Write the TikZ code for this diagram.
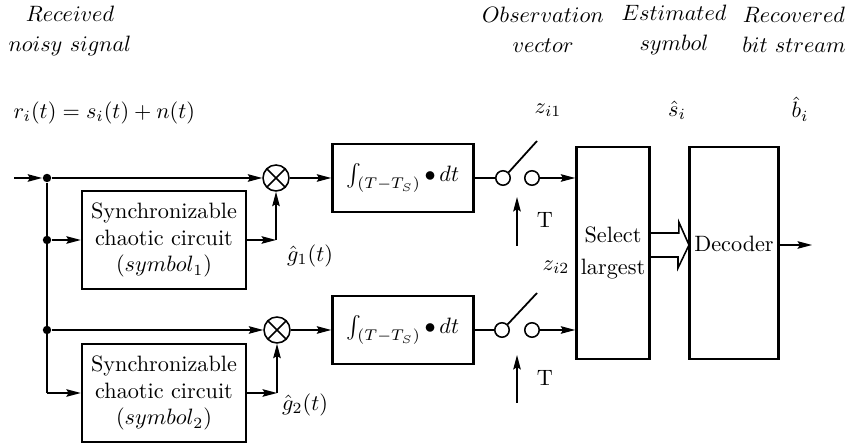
\documentclass[tikz,border=0pt]{standalone}
\usepackage{amsmath,amssymb}
\usetikzlibrary{arrows.meta,calc}

\begin{document}
\begin{tikzpicture}[x=0.45pt,y=-0.45pt,line width=0.6pt,
  box/.style={draw,line width=1.1pt,align=center,inner sep=1pt},
  dot/.style={circle,fill,inner sep=0pt,minimum size=3.8pt},
  toplbl/.style={align=center,inner sep=0pt},
  mult/.style={circle,draw,line width=0.7pt,inner sep=0pt,minimum size=11.7pt,
    path picture={\draw[line width=0.7pt]
      (path picture bounding box.north west) -- (path picture bounding box.south east)
      (path picture bounding box.south west) -- (path picture bounding box.north east);}},
  swc/.style={circle,draw,line width=0.7pt,inner sep=0pt,minimum size=6.5pt},
  arr/.style={-{Stealth[length=6.5pt,width=3.4pt,inset=1pt]}}]
  \useasboundingbox (0,0) rectangle (855,443);
  \node[toplbl] (rxlbl) at (70,31) {$Received$\\[1.5pt]$noisy\ signal$};
  \node[anchor=west,inner sep=0pt] (rxeq) at (13,113) {$r_i(t)=s_i(t)+n(t)$};
  \node[toplbl] (obslbl) at (543,30) {$Observation$\\[1.5pt]$vector$};
  \node[toplbl] (estlbl) at (674,30) {$Estimated$\\[1.5pt]$symbol$};
  \node[toplbl] (reclbl) at (794,30) {$Recovered$\\[1.5pt]$bit\ stream$};
  \node[inner sep=0pt] (zlbl1) at (548,110) {$z_{i1}$};
  \node[inner sep=0pt] (slbl) at (677,110) {$\hat s_i$};
  \node[inner sep=0pt] (blbl) at (800,109) {$\hat b_i$};

  \coordinate (in) at (14,178);
  \node[dot] (j1) at (47,178) {};
  \node[dot] (j2) at (47,240) {};
  \node[dot] (j3) at (47,330) {};
  \coordinate (j4) at (47,393);
  \node[box,minimum width=73.8pt,minimum height=44pt] (sync1) at (164,240) {Synchronizable\\chaotic circuit\\$(symbol_1)$};
  \node[box,minimum width=73.8pt,minimum height=44pt] (sync2) at (164,393) {Synchronizable\\chaotic circuit\\$(symbol_2)$};
  \node[mult] (mul1) at (276,178) {};
  \node[mult] (mul2) at (277,330) {};
  \node (glbl1) at (310,256) {$\hat g_1(t)$};
  \node (glbl2) at (305,405) {$\hat g_2(t)$};
  \node[box,minimum width=63.5pt,minimum height=30.6pt] (int1) at (403,178) {$\int_{(T-T_S)}\bullet\,dt$};
  \node[box,minimum width=63.5pt,minimum height=30.6pt] (int2) at (403,330) {$\int_{(T-T_S)}\bullet\,dt$};

  \node[swc] (sw1a) at (503,178) {};
  \node[swc] (sw1b) at (532,178) {};
  \coordinate (sw1t) at (537,141);
  \coordinate (tk1) at (517,246);
  \coordinate (tk1t) at (517,197);
  \node (tlbl1) at (545,220) {T};
  \node[swc] (sw2a) at (502,330) {};
  \node[swc] (sw2b) at (532,330) {};
  \coordinate (sw2t) at (537,293);
  \coordinate (tk2) at (517,403);
  \coordinate (tk2t) at (517,355);
  \node (tlbl2) at (545,378) {T};
  \node (zlbl2) at (556,267) {$z_{i2}$};

  \node[box,minimum width=32.9pt,minimum height=95.4pt] (sel) at (613,253) {Select\\[2pt]largest};
  \node[box,minimum width=40pt,minimum height=95.4pt] (dec) at (734,253) {};
  \node (dectxt) at (734,244) {Decoder};
  \coordinate (fa) at (689,245);
  \coordinate (out) at (812,245);

  \draw[arr] (in) -- (j1);
  \draw (j1) -- (j4);
  \draw[arr] (j1) -- (mul1);
  \draw[arr] (j2) -- (sync1);
  \draw[arr] (j3) -- (mul2);
  \draw[arr] (j4) -- (sync2);
  \draw[arr] (sync1) -- (sync1 -| mul1);
  \draw[arr] (sync1 -| mul1) -- (mul1);
  \draw[arr] (sync2) -- (sync2 -| mul2);
  \draw[arr] (sync2 -| mul2) -- (mul2);
  \draw[arr] (mul1) -- (int1);
  \draw[arr] (mul2) -- (int2);
  \draw (int1) -- (sw1a);
  \draw (int2) -- (sw2a);
  \draw[line width=0.8pt] (sw1a.45) -- (sw1t);
  \draw[line width=0.8pt] (sw2a.45) -- (sw2t);
  \draw[arr] (sw1b) -- (sw1b -| sel.west);
  \draw[arr] (sw2b) -- (sw2b -| sel.west);
  \draw[arr] (tk1) -- (tk1t);
  \draw[arr] (tk2) -- (tk2t);
  \draw[line width=0.7pt] ($(sel.east |- fa)+(0,-12)$) -- ++(28,0) -- ++(0,-11) -- (fa)
    -- ++(-11,23) -- ++(0,-11) -- ++(-28,0);
  \draw[arr] (dec.east |- fa) -- (out);
\end{tikzpicture}
\end{document}
